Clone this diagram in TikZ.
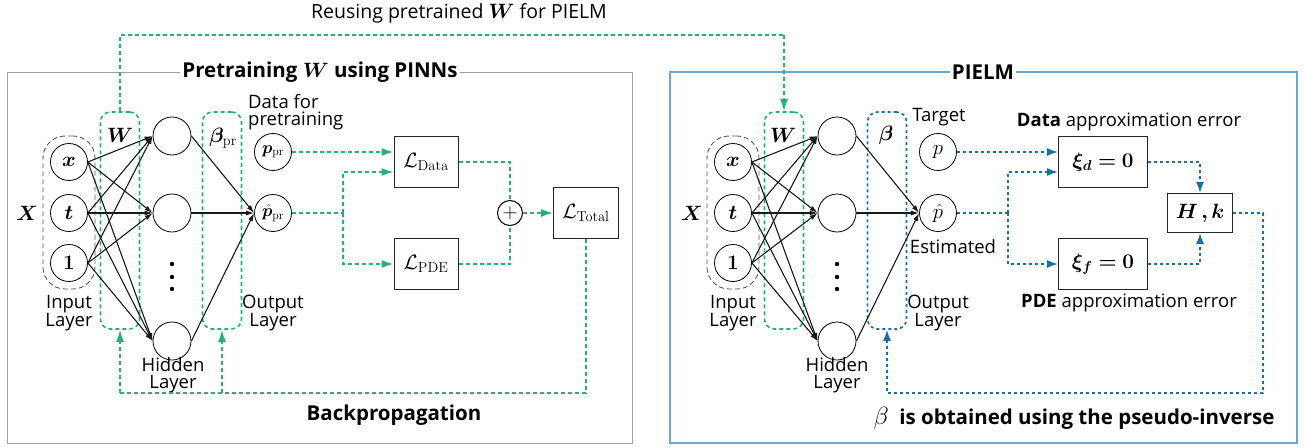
\documentclass[tikz,border=0pt]{standalone}
\usepackage{amsmath,bm}
\usepackage[no-math]{fontspec}
\setmainfont{Open Sans}
\usetikzlibrary{arrows.meta}
\definecolor{grn}{RGB}{38,178,112}
\definecolor{blu}{RGB}{22,112,162}
\definecolor{fblu}{RGB}{110,165,210}
\definecolor{fgry}{RGB}{160,160,160}
\begin{document}
\begin{tikzpicture}[x=1pt,y=-1pt,
 neuron/.style={circle,draw,fill=white,line width=0.8pt,minimum size=37pt,inner sep=0pt,font=\fontsize{20}{22}\selectfont},
 lbox/.style={draw=black!85,line width=1pt,minimum width=64pt,minimum height=51pt,inner sep=0pt,font=\fontsize{21}{24}\selectfont},
 gdash/.style={draw=grn,line width=1.6pt,dash pattern=on 4pt off 3pt},
 bdash/.style={draw=blu,line width=1.6pt,dash pattern=on 3pt off 3pt},
 garr/.style={gdash,-{Latex[length=12pt,width=8pt]}},
 barr/.style={bdash,-{Latex[length=11pt,width=8pt]}},
 wire/.style={line width=1.1pt,black!90,-{Latex[length=8pt,width=5pt]}},
 layerbox/.style={rounded corners=10pt,minimum width=39pt,minimum height=217pt,inner sep=0pt},
 xbox/.style={draw=black!65,dash pattern=on 5pt off 3pt,line width=0.9pt,rounded corners=22pt,minimum width=52pt,minimum height=153pt,inner sep=0pt},
 lbl/.style={font=\fontsize{18.5}{17}\selectfont,align=center,inner sep=0pt},
 ttl/.style={font=\fontsize{20.5}{22}\selectfont\bfseries,fill=white,inner sep=2pt},
 mth/.style={font=\fontsize{20}{22}\selectfont,inner sep=0pt},
]
\useasboundingbox (0,0) rectangle (1306,447);

% ---------------- left panel ----------------
\draw[fgry,line width=1pt] (7,72) rectangle (632,443);
\node[ttl] (tl) at (320,72) {Pretraining $\bm{W}$ using PINNs};
\node[lbl,font=\fontsize{19.5}{20}\selectfont] (reuse) at (459,13) {Reusing pretrained $\bm{W}$ for PIELM};

\node[xbox] (Xl) at (69,212.5) {};
\node[mth] (Xll) at (27,213) {$\bm{X}$};
\node[layerbox,gdash] (Wl) at (120,220.5) {};
\node[layerbox,gdash] (Bl) at (222,220.5) {};
\node[mth] (Wll) at (120,135) {$\bm{W}$};
\node[mth] (Bll) at (223,138) {$\bm{\beta}_{\mathrm{pr}}$};

\node[neuron] (ix) at (69,162) {$\bm{x}$};
\node[neuron] (it) at (69,213) {$\bm{t}$};
\node[neuron] (io) at (69,263) {$\bm{1}$};
\node[neuron,minimum size=38pt] (ha) at (172,136) {};
\node[neuron,minimum size=38pt] (hb) at (172,213) {};
\node[neuron,minimum size=38pt] (hc) at (172,341) {};
\node[neuron,font=\fontsize{17}{19}\selectfont] (pp) at (273,152) {$\bm{p}_{\mathrm{pr}}$};
\node[neuron,font=\fontsize{17}{19}\selectfont] (ph) at (273,213) {$\hat{\bm{p}}_{\mathrm{pr}}$};
\fill (172,264) circle (2.2pt) (172,277) circle (2.2pt) (172,289) circle (2.2pt);

\foreach \i in {ix,it,io}{\foreach \h in {ha,hb,hc}{\draw[wire] (\i.east) -- (\h.west);}}
\foreach \h in {ha,hb,hc}{\draw[wire] (\h.east) -- (ph.west);}

\node[lbl] (inl) at (69,313) {Input\\Layer};
\node[lbl] (hil) at (173,375) {Hidden\\Layer};
\node[lbl] (oul) at (273,313) {Output\\Layer};
\node[lbl,align=left,anchor=west] (dfp) at (248,112) {Data for\\pretraining};

\node[lbox] (Ld) at (426,162) {$\mathcal{L}_{\mathrm{Data}}$};
\node[lbox] (Lp) at (426,264) {$\mathcal{L}_{\mathrm{PDE}}$};
\node[circle,draw,line width=1pt,minimum size=25pt,inner sep=0pt,font=\fontsize{22}{22}\selectfont] (plus) at (510,213) {$+$};
\node[lbox,minimum width=65pt] (Lt) at (586,213) {$\mathcal{L}_{\mathrm{Total}}$};

\draw[garr] (pp.east) -- (Ld.west |- pp.east);
\coordinate (sl) at (343,213);
\draw[gdash] (ph.east) -- (sl);
\draw[garr] (sl) |- (Ld.west |- 0,172);
\draw[garr] (sl) |- (Lp.west);
\draw[gdash] (Ld.east) -| (plus.north);
\draw[gdash] (Lp.east) -| (plus.south);
\draw[garr] (plus.east) -- (Lt.west);

\coordinate (bb) at (120,393);
\draw[gdash] (Lt.south) |- (bb);
\draw[garr] (bb) -- (Wl.south);
\draw[garr] (Bl.south |- bb) -- (Bl.south);
\node[font=\fontsize{20.5}{22}\selectfont\bfseries] (bp) at (394,415) {Backpropagation};

% ---------------- right panel ----------------
\draw[fblu,line width=1.5pt] (670,72) rectangle (1297,443);
\node[ttl] (tr) at (983,72) {PIELM};

\node[xbox] (Xr) at (733,212.5) {};
\node[mth] (Xrl) at (692,213) {$\bm{X}$};
\node[layerbox,gdash] (Wr) at (784,220.5) {};
\node[layerbox,bdash] (Br) at (887,220.5) {};
\node[mth] (Wrl) at (783,135) {$\bm{W}$};
\node[mth] (Brl) at (886,135) {$\bm{\beta}$};

\node[neuron] (jx) at (733,162) {$\bm{x}$};
\node[neuron] (jt) at (733,213) {$\bm{t}$};
\node[neuron] (jo) at (733,263) {$\bm{1}$};
\node[neuron,minimum size=38pt] (ka) at (837,136) {};
\node[neuron,minimum size=38pt] (kb) at (837,213) {};
\node[neuron,minimum size=38pt] (kc) at (837,341) {};
\node[neuron] (tp) at (938,152) {$p$};
\node[neuron] (ep) at (938,213) {$\hat{p}$};
\fill (837,264) circle (2.2pt) (837,277) circle (2.2pt) (837,289) circle (2.2pt);

\foreach \i in {jx,jt,jo}{\foreach \h in {ka,kb,kc}{\draw[wire] (\i.east) -- (\h.west);}}
\foreach \h in {ka,kb,kc}{\draw[wire] (\h.east) -- (ep.west);}

\node[lbl] (inr) at (733,313) {Input\\Layer};
\node[lbl] (hir) at (837,375) {Hidden\\Layer};
\node[lbl] (our) at (938,313) {Output\\Layer};
\node[lbl] (tgt) at (939,117) {Target};
\node[lbl] (est) at (953,247) {Estimated};
\node[lbl] (dae) at (1129,122) {\textbf{Data} approximation error};
\node[lbl] (pae) at (1129,303) {\textbf{PDE} approximation error};

\node[lbox,minimum width=89pt] (Xd) at (1103,162) {$\bm{\xi_d = 0}$};
\node[lbox,minimum width=89pt] (Xf) at (1103,264) {$\bm{\xi_f = 0}$};
\node[lbox,minimum width=65pt,minimum height=39pt,font=\fontsize{20}{22}\selectfont] (Hk) at (1200,213) {$\bm{H\,,k}$};

\draw[barr] (tp.east) -- (Xd.west |- tp.east);
\coordinate (sr) at (1008,213);
\draw[bdash] (ep.east) -- (sr);
\draw[barr] (sr) |- (Xd.west |- 0,172);
\draw[barr] (sr) |- (Xf.west);
\draw[barr] (Xd.east) -| (Hk.north);
\draw[barr] (Xf.east) -| (Hk.south);
\coordinate (rc) at (1263,393);
\draw[barr] (Hk.east) -| (rc) -| (Br.south);
\node[font=\fontsize{20.5}{22}\selectfont\bfseries] (pinv) at (1074,418) {{\fontsize{23}{23}\selectfont$\beta$}\ \ is obtained using the pseudo-inverse};

% ---------------- reuse connector ----------------
\coordinate (t1) at (120,35);
\coordinate (t2) at (784,35);
\draw[gdash] (Wl.north) -- (t1) -- (t2);
\draw[garr] (t2) -- (Wr.north);
\end{tikzpicture}
\end{document}
